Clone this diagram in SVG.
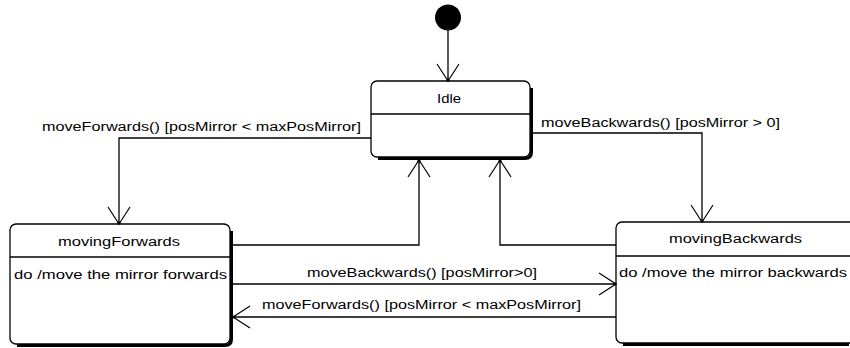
<svg xmlns="http://www.w3.org/2000/svg" width="850" height="348" viewBox="0 0 850 348">
<style>
  .box{fill:#fff;stroke:#000;stroke-width:1.3}
  .shadow{fill:none;stroke:#000;stroke-width:3}
  .div{stroke:#000;stroke-width:1.3}
  .t{font-family:"Liberation Sans",Arial,sans-serif;font-size:12px;fill:#000}
  .c{fill:none;stroke:#000;stroke-width:1.3}
</style>
<defs>
  <marker id="arr" markerUnits="userSpaceOnUse" markerWidth="40" markerHeight="40" viewBox="-20 -20 40 40" refX="0" refY="0" orient="auto">
    <path d="M-17,-11 L0,0 L-17,11" fill="none" stroke="#000" stroke-width="1.2"/>
    <circle cx="-1" cy="0" r="1.6" fill="#000"/>
  </marker>
</defs>
<g id="initial">
  <circle cx="448" cy="17.5" r="13" fill="#000"/>
</g>
<g id="Idle">
  <path class="shadow" d="M378,158.5 L525,158.5 Q531.5,158.5 531.5,152 L531.5,88"/>
  <rect class="box" x="371" y="81" width="159" height="76" rx="6"/>
  <line class="div" x1="371" y1="114" x2="530" y2="114"/>
  <text class="t" x="449" y="103" text-anchor="middle" textLength="24" lengthAdjust="spacingAndGlyphs">Idle</text>
</g>
<g id="movingForwards">
  <path class="shadow" d="M17,345.5 L225,345.5 Q231.5,345.5 231.5,339 L231.5,231"/>
  <rect class="box" x="10" y="224" width="220" height="120" rx="6"/>
  <line class="div" x1="10" y1="257" x2="230" y2="257"/>
  <text class="t" x="119" y="246" text-anchor="middle" textLength="122" lengthAdjust="spacingAndGlyphs">movingForwards</text>
  <text class="t" x="14" y="279" textLength="213" lengthAdjust="spacingAndGlyphs">do /move the mirror forwards</text>
</g>
<g id="movingBackwards">
  <path class="shadow" d="M623,344.5 L849,344.5"/>
  <rect class="box" x="616" y="222" width="240" height="121" rx="6"/>
  <line class="div" x1="616" y1="256" x2="850" y2="256"/>
  <text class="t" x="735.5" y="243" text-anchor="middle" textLength="133" lengthAdjust="spacingAndGlyphs">movingBackwards</text>
  <text class="t" x="619" y="277" textLength="228" lengthAdjust="spacingAndGlyphs">do /move the mirror backwards</text>
</g>
<g id="connectors">
  <path class="c" d="M448,30 L448,81" marker-end="url(#arr)"/>
  <path class="c" d="M371,138 L119,138 L119,224" marker-end="url(#arr)"/>
  <path class="c" d="M530,133 L702,133 L702,222" marker-end="url(#arr)"/>
  <path class="c" d="M232,245 L419,245 L419,160" marker-end="url(#arr)"/>
  <path class="c" d="M616,245 L500,245 L500,160" marker-end="url(#arr)"/>
  <path class="c" d="M232,284 L616,284" marker-end="url(#arr)"/>
  <path class="c" d="M616,317 L233,317" marker-end="url(#arr)"/>
  <text class="t" x="42" y="131" textLength="319" lengthAdjust="spacingAndGlyphs">moveForwards() [posMirror &lt; maxPosMirror]</text>
  <text class="t" x="541" y="127" textLength="239" lengthAdjust="spacingAndGlyphs">moveBackwards() [posMirror &gt; 0]</text>
  <text class="t" x="307" y="277" textLength="230" lengthAdjust="spacingAndGlyphs">moveBackwards() [posMirror&gt;0]</text>
  <text class="t" x="262" y="309" textLength="319" lengthAdjust="spacingAndGlyphs">moveForwards() [posMirror &lt; maxPosMirror]</text>
</g>
</svg>
